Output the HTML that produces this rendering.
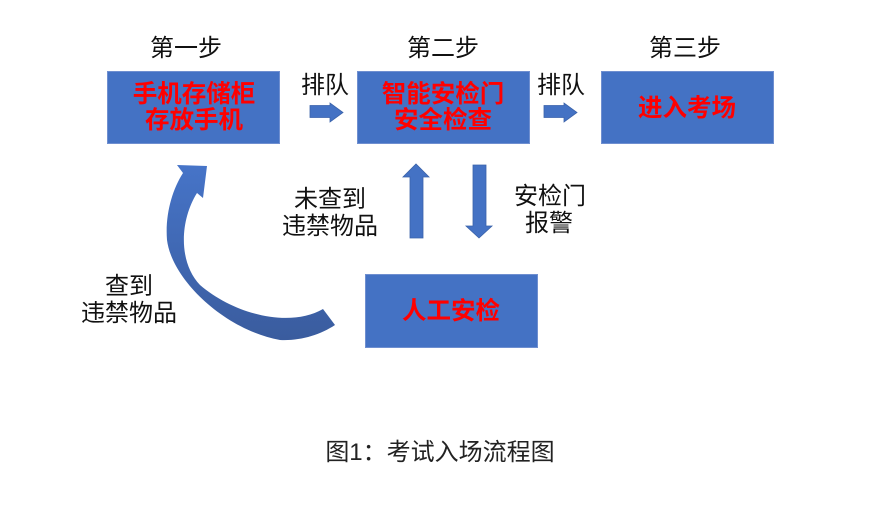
<!DOCTYPE html>
<html><head><meta charset="utf-8"><style>
html,body{margin:0;padding:0;background:#fff;}
svg{display:block;}
text{font-family:"Liberation Sans","Noto Sans CJK SC",sans-serif;}
</style></head><body>
<svg width="895" height="516" viewBox="0 0 895 516" xmlns="http://www.w3.org/2000/svg">
<defs>
<linearGradient id="cg" x1="0" y1="0" x2="0" y2="1">
<stop offset="0" stop-color="#4674C8"/>
<stop offset="1" stop-color="#3A5C9E"/>
</linearGradient>
</defs>
<rect x="0" y="0" width="895" height="516" fill="#fff"/>
<!-- step labels -->
<g font-size="24" fill="#111" text-anchor="middle">
<text x="186" y="56">第一步</text>
<text x="443" y="56">第二步</text>
<text x="685" y="56">第三步</text>
</g>
<!-- boxes -->
<g fill="#4472C4" stroke="#6F8FD0" stroke-width="1">
<rect x="107.5" y="71.5" width="172" height="72"/>
<rect x="357.5" y="71.5" width="172" height="72"/>
<rect x="601.5" y="71.5" width="172" height="72"/>
<rect x="365.5" y="274.5" width="172" height="73"/>
</g>
<g font-size="24.5" font-weight="bold" fill="#FF0000" text-anchor="middle">
<text x="194" y="102">手机存储柜</text>
<text x="194" y="128">存放手机</text>
<text x="443" y="102">智能安检门</text>
<text x="443" y="128">安全检查</text>
<text x="687" y="116">进入考场</text>
<text x="451" y="319">人工安检</text>
</g>
<!-- queue labels -->
<g font-size="24" fill="#111" text-anchor="middle">
<text x="325" y="93">排队</text>
<text x="561" y="93">排队</text>
</g>
<!-- right arrows -->
<g fill="#4472C4" stroke="#3A62AA" stroke-width="0.8">
<polygon points="310,105.5 330,105.5 330,103 343,112.5 330,122 330,117.5 310,117.5"/>
<polygon points="544,105.5 564,105.5 564,103 577,112.5 564,122 564,117.5 544,117.5"/>
<!-- up arrow -->
<polygon points="410,238 410,177 403,177 416,164 429,177 423,177 423,238"/>
<!-- down arrow -->
<polygon points="473,165 486,165 486,226 492,226 479,238 466,226 473,226"/>
</g>
<!-- side labels -->
<g font-size="24" fill="#111" text-anchor="middle">
<text x="330" y="207">未查到</text>
<text x="330" y="234">违禁物品</text>
<text x="550" y="204">安检门</text>
<text x="549" y="231">报警</text>
<text x="129" y="294">查到</text>
<text x="129" y="321">违禁物品</text>
</g>
<!-- curved arrow -->
<path d="M323,309 C290,328 235,315 200,285 C178,262 180,220 197,193 L203,198 L207,166 L177,165 L183,173 C172,190 165,215 167,240 C172,280 225,330 280,340 C300,341 320,335 335,325 Z" fill="url(#cg)"/>
<!-- caption -->
<text x="440" y="460" font-size="24" fill="#222" text-anchor="middle">图1：考试入场流程图</text>
</svg>
</body></html>
